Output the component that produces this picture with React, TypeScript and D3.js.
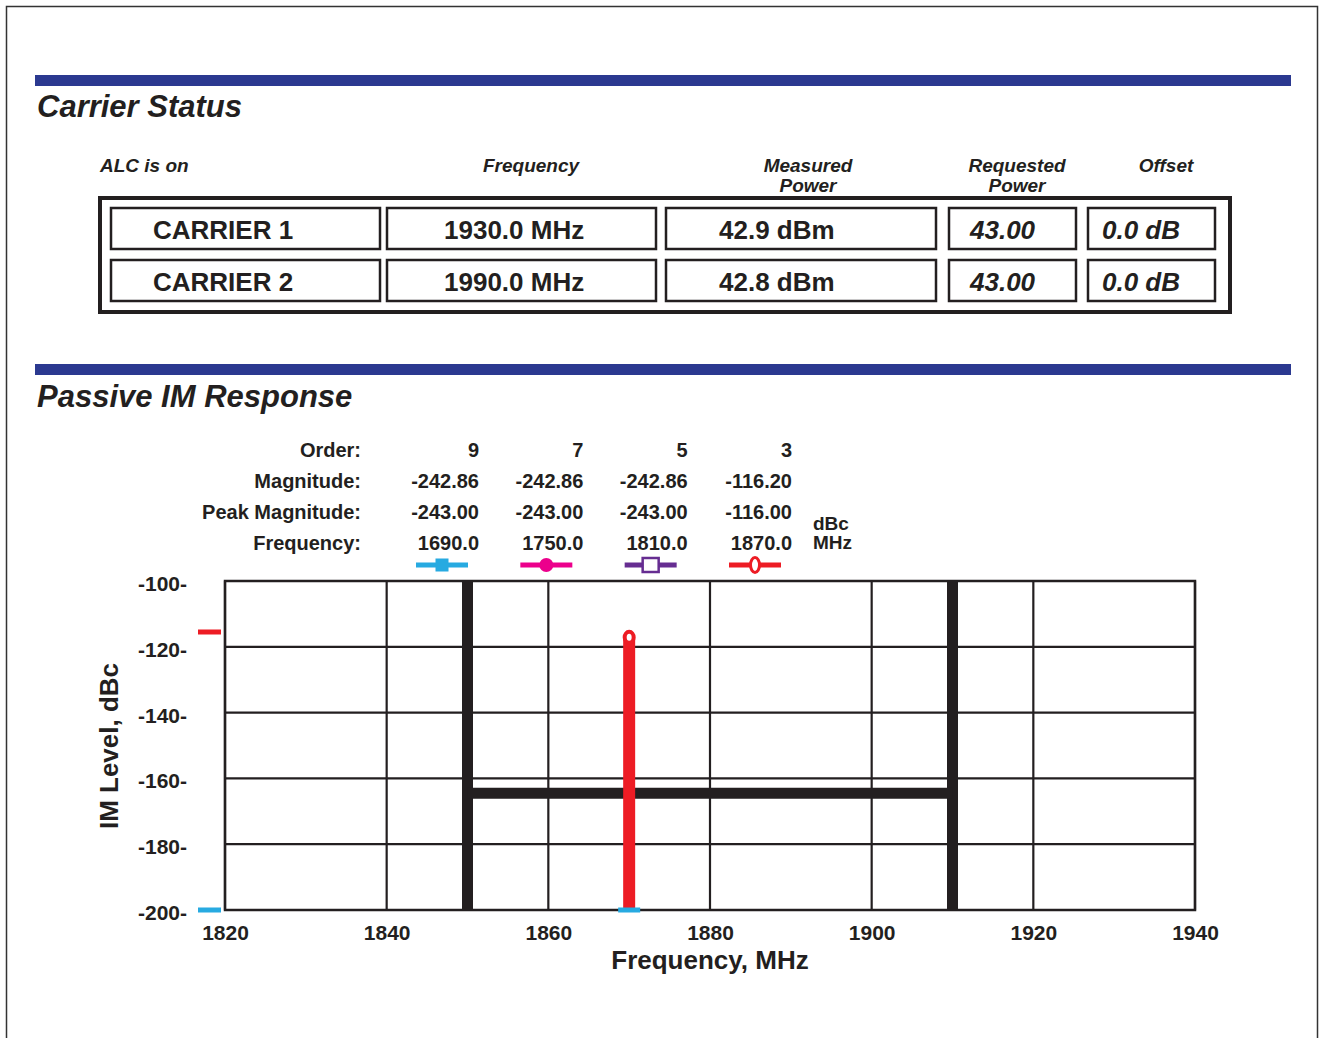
import React, { useRef, useEffect } from 'react'
import * as d3 from 'd3'

// carrier status table
const carrierNames = ['CARRIER 1', 'CARRIER 2']
const carrierFreqs = ['1930.0 MHz', '1990.0 MHz']
const measuredPower = ['42.9 dBm', '42.8 dBm']
const requestedPower = ['43.00', '43.00']
const offsets = ['0.0 dB', '0.0 dB']

// passive IM summary
const orders = ['9', '7', '5', '3']
const magnitudes = ['-242.86', '-242.86', '-242.86', '-116.20']
const peakMagnitudes = ['-243.00', '-243.00', '-243.00', '-116.00']
const imFrequencies = ['1690.0', '1750.0', '1810.0', '1870.0']

const xTicks = [1820, 1840, 1860, 1880, 1900, 1920, 1940]
const yTicks = [-100, -120, -140, -160, -180, -200]

// carrier passband outline
const bandEdges = [1850, 1910]
const bandFloor = -164.5

// 3rd order product stem
const stemFreq = 1870
const stemLevel = -116.2
const stemFloor = -200

// peak hold marks at the left of the plot (order 3, order 9)
const peakLevels = [-115.5, -200]

const CYAN = '#27aae1'
const MAGENTA = '#ec008c'
const PURPLE = '#662d91'
const RED = '#ed1c24'
const INK = '#231f20'
const BLUE = '#2b3990'
const orderColors = [CYAN, MAGENTA, PURPLE, RED]
const peakColors = [RED, CYAN]

const FONT = '"Liberation Sans", Arial, Helvetica, sans-serif'

const App: React.FC = () => {
  const svgRef = useRef<SVGSVGElement>(null)

  useEffect(() => {
    if (!svgRef.current) return
    const svg = d3.select(svgRef.current)
    svg.selectAll('*').remove()
    svg.style('font-family', FONT)

    // page frame
    svg.append('rect')
      .attr('x', 6.5).attr('y', 6.5).attr('width', 1311).attr('height', 1040)
      .attr('fill', 'none').attr('stroke', '#333').attr('stroke-width', 1.5)

    // section bars + titles
    ;[75, 364].forEach(y => {
      svg.append('rect').attr('x', 35).attr('y', y).attr('width', 1256).attr('height', 11).attr('fill', BLUE)
    })
    svg.append('text').attr('x', 37).attr('y', 117).text('Carrier Status')
      .attr('font-size', 31).attr('font-weight', 'bold').attr('font-style', 'italic').attr('fill', INK)
    svg.append('text').attr('x', 37).attr('y', 407).text('Passive IM Response')
      .attr('font-size', 31).attr('font-weight', 'bold').attr('font-style', 'italic').attr('fill', INK)

    // table headers
    const hdr = (x: number, y: number, t: string, anchor = 'middle') =>
      svg.append('text').attr('x', x).attr('y', y).text(t).attr('text-anchor', anchor)
        .attr('font-size', 19).attr('font-weight', 'bold').attr('font-style', 'italic').attr('fill', INK)
    hdr(100, 172, 'ALC is on', 'start')
    hdr(531, 172, 'Frequency')
    hdr(808, 172, 'Measured')
    hdr(808, 192, 'Power')
    hdr(1017, 172, 'Requested')
    hdr(1017, 192, 'Power')
    hdr(1166, 172, 'Offset')

    // table
    svg.append('rect').attr('x', 100).attr('y', 198).attr('width', 1130).attr('height', 114)
      .attr('fill', 'none').attr('stroke', INK).attr('stroke-width', 4)

    const cols = [
      { x0: 111, x1: 380, tx: 153, vals: carrierNames, italic: false },
      { x0: 387, x1: 656, tx: 444, vals: carrierFreqs, italic: false },
      { x0: 666, x1: 936, tx: 719, vals: measuredPower, italic: false },
      { x0: 949, x1: 1076, tx: 970, vals: requestedPower, italic: true },
      { x0: 1088, x1: 1215, tx: 1102, vals: offsets, italic: true }
    ]
    const rowTops = [208, 260]
    cols.forEach(c => {
      c.vals.forEach((v, r) => {
        svg.append('rect').attr('x', c.x0).attr('y', rowTops[r]).attr('width', c.x1 - c.x0).attr('height', 41)
          .attr('fill', 'none').attr('stroke', INK).attr('stroke-width', 2.5)
        svg.append('text').attr('x', c.tx).attr('y', rowTops[r] + 31).text(v)
          .attr('font-size', 26).attr('font-weight', 'bold')
          .attr('font-style', c.italic ? 'italic' : 'normal').attr('fill', INK)
      })
    })

    // IM summary block
    const labels = ['Order:', 'Magnitude:', 'Peak Magnitude:', 'Frequency:']
    const rows = [orders, magnitudes, peakMagnitudes, imFrequencies]
    const rowBase = [457, 488, 519, 550]
    const colRight = d3.scaleLinear().domain([0, 3]).range([479, 792])
    labels.forEach((l, i) => {
      svg.append('text').attr('x', 361).attr('y', rowBase[i]).text(l).attr('text-anchor', 'end')
        .attr('font-size', 20).attr('font-weight', 'bold').attr('fill', INK)
      rows[i].forEach((v, j) => {
        svg.append('text').attr('x', colRight(j)).attr('y', rowBase[i]).text(v).attr('text-anchor', 'end')
          .attr('font-size', 20).attr('font-weight', 'bold').attr('fill', INK)
      })
    })
    svg.append('text').attr('x', 813).attr('y', 530).text('dBc')
      .attr('font-size', 19).attr('font-weight', 'bold').attr('fill', INK)
    svg.append('text').attr('x', 813).attr('y', 549).text('MHz')
      .attr('font-size', 19).attr('font-weight', 'bold').attr('fill', INK)

    // legend symbols under each column
    const legY = 565
    orders.forEach((_, j) => {
      const cx = colRight(j) - 37
      const col = orderColors[j]
      svg.append('line').attr('x1', cx - 26).attr('x2', cx + 26).attr('y1', legY).attr('y2', legY)
        .attr('stroke', col).attr('stroke-width', 5)
      if (j === 0) {
        svg.append('rect').attr('x', cx - 6.5).attr('y', legY - 6.5).attr('width', 13).attr('height', 13).attr('fill', col)
      } else if (j === 1) {
        svg.append('circle').attr('cx', cx).attr('cy', legY).attr('r', 7).attr('fill', col)
      } else if (j === 2) {
        svg.append('rect').attr('x', cx - 8).attr('y', legY - 7).attr('width', 16).attr('height', 14)
          .attr('fill', 'white').attr('stroke', col).attr('stroke-width', 2.5)
      } else {
        svg.append('ellipse').attr('cx', cx).attr('cy', legY).attr('rx', 4.5).attr('ry', 7.5)
          .attr('fill', 'white').attr('stroke', col).attr('stroke-width', 3)
      }
    })

    // plot
    const x = d3.scaleLinear().domain([1820, 1940]).range([225, 1195])
    const y = d3.scaleLinear().domain([-200, -100]).range([910, 581])
    const g = svg.append('g')

    xTicks.forEach(t => {
      g.append('line').attr('x1', x(t)).attr('x2', x(t)).attr('y1', y(-100)).attr('y2', y(-200))
        .attr('stroke', INK).attr('stroke-width', 2.2)
    })
    yTicks.forEach(t => {
      g.append('line').attr('x1', x(1820)).attr('x2', x(1940)).attr('y1', y(t)).attr('y2', y(t))
        .attr('stroke', INK).attr('stroke-width', 2.2)
    })
    g.append('rect').attr('x', x(1820)).attr('y', y(-100)).attr('width', x(1940) - x(1820)).attr('height', y(-200) - y(-100))
      .attr('fill', 'none').attr('stroke', INK).attr('stroke-width', 2.5)

    // axes (labels only, the dash after the number is part of the label)
    const yAxis = g.append('g').attr('transform', `translate(${x(1820) - 38},0)`)
      .call(d3.axisLeft(y).tickValues(yTicks).tickSize(0).tickPadding(0).tickFormat(d => `${d}-`))
    yAxis.select('.domain').remove()
    yAxis.selectAll('text').attr('text-anchor', 'end').attr('x', 0).attr('dy', '0.45em')
      .attr('font-size', 21).attr('font-weight', 'bold').attr('fill', INK).attr('font-family', FONT)

    const xAxis = g.append('g').attr('transform', `translate(0,${y(-200)})`)
      .call(d3.axisBottom(x).tickValues(xTicks).tickSize(0).tickPadding(0).tickFormat(d => `${d}`))
    xAxis.select('.domain').remove()
    xAxis.selectAll('text').attr('y', 30).attr('dy', 0)
      .attr('font-size', 21).attr('font-weight', 'bold').attr('fill', INK).attr('font-family', FONT)

    svg.append('text').attr('x', 710).attr('y', 969).text('Frequency, MHz').attr('text-anchor', 'middle')
      .attr('font-size', 26).attr('font-weight', 'bold').attr('fill', INK)
    svg.append('text').attr('transform', `translate(118,746) rotate(-90)`).text('IM Level, dBc')
      .attr('text-anchor', 'middle').attr('font-size', 26).attr('font-weight', 'bold').attr('fill', INK)

    // carrier passband outline
    const bw = 11
    bandEdges.forEach(f => {
      g.append('line').attr('x1', x(f)).attr('x2', x(f)).attr('y1', y(-100)).attr('y2', y(-200))
        .attr('stroke', INK).attr('stroke-width', bw)
    })
    g.append('line').attr('x1', x(bandEdges[0])).attr('x2', x(bandEdges[1]))
      .attr('y1', y(bandFloor)).attr('y2', y(bandFloor))
      .attr('stroke', INK).attr('stroke-width', bw)

    // 3rd order stem
    const capY = y(stemLevel) + 3
    g.append('line').attr('x1', x(stemFreq)).attr('x2', x(stemFreq)).attr('y1', capY).attr('y2', y(stemFloor))
      .attr('stroke', RED).attr('stroke-width', 12)
    g.append('ellipse').attr('cx', x(stemFreq)).attr('cy', capY).attr('rx', 4.5).attr('ry', 5.5)
      .attr('fill', 'white').attr('stroke', RED).attr('stroke-width', 4)
    g.append('rect').attr('x', x(stemFreq) - 11).attr('y', y(stemFloor) - 2.5).attr('width', 22).attr('height', 5)
      .attr('fill', CYAN)

    // peak hold marks
    peakLevels.forEach((lv, i) => {
      g.append('rect').attr('x', 198).attr('y', y(lv) - 2.5).attr('width', 23).attr('height', 5)
        .attr('fill', peakColors[i])
    })
  }, [])

  return (
    <svg ref={svgRef} width={1322} height={1038}
      style={{ position: 'absolute', left: 0, top: 0, background: 'white' }} />
  )
}

export default App
